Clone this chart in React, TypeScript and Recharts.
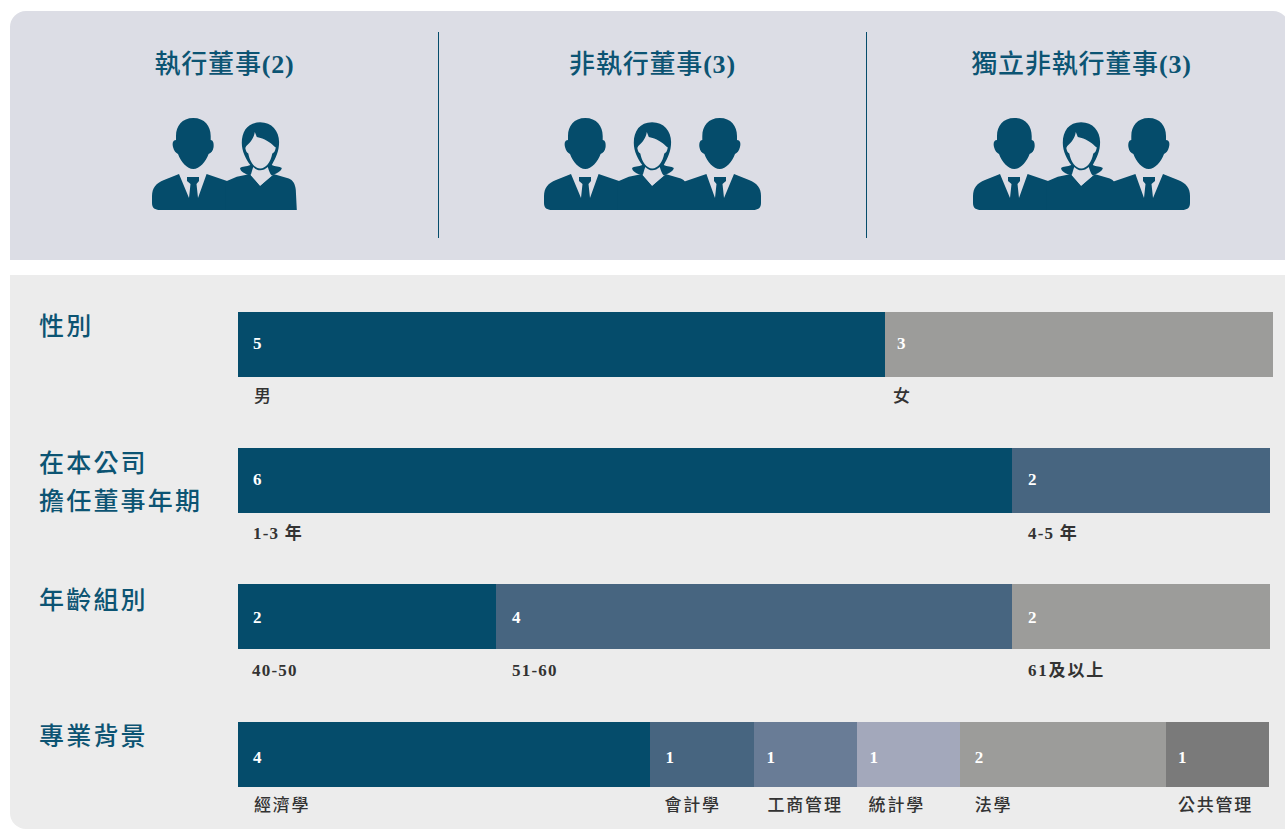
import { BarChart, Bar, XAxis, YAxis, LabelList } from 'recharts'

const NAVY = '#054c6b'
const TOP_BG = '#dcdde5'
const BOTTOM_BG = '#ececec'
const FONT = '"Liberation Serif", "Noto Sans CJK TC", serif'

const boardNames = ['執行董事', '非執行董事', '獨立非執行董事']
const boardCounts = [2, 3, 3]
const boardPeople = [
  ['man', 'woman'],
  ['man', 'woman', 'manR'],
  ['man', 'woman', 'manR'],
]

const genderNames = ['男', '女']
const genderValues = [5, 3]
const tenureNames = ['1-3 年', '4-5 年']
const tenureValues = [6, 2]
const ageNames = ['40-50', '51-60', '61及以上']
const ageValues = [2, 4, 2]
const majorNames = ['經濟學', '會計學', '工商管理', '統計學', '法學', '公共管理']
const majorValues = [4, 1, 1, 1, 2, 1]

const BLUE1 = '#476580'
const BLUE2 = '#697c96'
const BLUE3 = '#a3a8bb'
const GREY1 = '#9c9c9a'
const GREY2 = '#7a7a7a'

function Man({ x, flip }: { x: number; flip?: boolean }) {
  const t = flip ? `translate(${x},118) scale(-1,1)` : `translate(${x},118)`
  return (
    <g transform={t} fill={NAVY}>
      <path d="M41.3 0C30 0 24 8 24 18V22C21 22 20 25 21 29C22 33 24 35 26 36C29 44 35 51 41.3 51C47.6 51 53.6 44 56.6 36C59 35 61 33 61.6 29C62 25 61 22 58.7 22V18C58.7 8 52.6 0 41.3 0Z" />
      <path d="M27 56L12 62C4 65 0 70 0 78V85C0 90 3 92 8 92H78V64L54.6 56L46 80H37Z" />
      <path d="M35 59H47V63L44.5 66L46 80H37L38.5 66L35 63Z" />
    </g>
  )
}

function Woman({ x }: { x: number }) {
  return (
    <g transform={`translate(${x},118)`}>
      <path fill={NAVY} d="M-1.7 63.7L10 58.7L23.3 56L33.3 67.7L46.6 56L62 60.5C66 62 68.5 66 69 72L70 92H-1.7Z" />
      <path fill={TOP_BG} d="M24 46H44L46.6 56.5L33.3 67.7L23.3 56.5Z" />
      <path fill={NAVY} d="M33.3 4.3C21 4.3 15 13 15 25C15 33 19 41 23.5 47C20 49 15 48 13.3 50C13 53 18 56 23.3 57.5C25 56 25 52 26.5 49C29 51.5 31 52.3 33.5 52.3C36 52.3 39 51 41 49C42 52 43 56 45 57.5C49 56 55 53 55 50C53 48 48 49 45 47C49 40 52.3 33 52.3 24C52.3 13 45 4.3 33.3 4.3Z" />
      <path fill={TOP_BG} d="M28 14C27 20 24 24 19.5 28L18.5 30C19 33 20 35 21.5 35.5C23 44 28 50.5 33.5 50.5C39 50.5 44 44 45.5 35.5C47 35 48.5 33 49 29.5L47.5 28.5C43 24 38 20.5 30 19Z" />
    </g>
  )
}

function People({ kinds, left }: { kinds: string[]; left: number }) {
  const rightEdge = left + 217
  return (
    <>
      {kinds.map((k, i) =>
        k === 'man' ? (
          <Man key={i} x={left} />
        ) : k === 'woman' ? (
          <Woman key={i} x={left + 74.8} />
        ) : (
          <Man key={i} x={rightEdge} flip />
        ),
      )}
    </>
  )
}

interface RowProps {
  top: number
  width: number
  names: string[]
  values: number[]
  colors: string[]
  valueDx: number[]
  valueDy: number
  nameDx: number[]
  nameDy: number
}

function StackRow({ top, width, names, values, colors, valueDx, valueDy, nameDx, nameDy }: RowProps) {
  const row: Record<string, number | string> = { name: 'row' }
  values.forEach((v, i) => {
    row[`s${i}`] = v
  })
  const total = values.reduce((a, b) => a + b, 0)

  return (
    <div style={{ position: 'absolute', left: 238, top }}>
      <BarChart
        width={width}
        height={110}
        data={[row]}
        layout="vertical"
        margin={{ top: 0, right: 0, bottom: 45, left: 0 }}
        barCategoryGap={0}
      >
        <XAxis type="number" domain={[0, total]} hide />
        <YAxis type="category" dataKey="name" hide />
        {values.map((_, i) => (
          <Bar key={i} dataKey={`s${i}`} stackId="a" fill={colors[i]} shapeRendering="crispEdges" isAnimationActive={false}>
            <LabelList
              dataKey={`s${i}`}
              content={(p: any) => (
                <g>
                  <text
                    x={p.x + valueDx[i]}
                    y={p.y + valueDy}
                    dominantBaseline="central"
                    fill="#fff"
                    fontFamily={FONT}
                    fontSize={17}
                    fontWeight={700}
                  >
                    {p.value}
                  </text>
                  <text
                    x={p.x + nameDx[i]}
                    y={p.y + p.height + nameDy}
                    dominantBaseline="central"
                    fill="#333"
                    fontFamily={FONT}
                    fontSize={17}
                    fontWeight={/[0-9]/.test(names[i]) ? 700 : 500}
                    letterSpacing={/[\u4e00-\u9fff]{2}/.test(names[i]) ? 1.8 : 1.2}
                  >
                    {names[i]}
                  </text>
                </g>
              )}
            />
          </Bar>
        ))}
      </BarChart>
    </div>
  )
}

function SectionLabel({ lines, top }: { lines: string[]; top: number }) {
  return (
    <>
      {lines.map((l, i) => (
        <div
          key={i}
          style={{
            position: 'absolute',
            left: 39,
            top: top + i * 38 - 20,
            height: 40,
            lineHeight: '40px',
            fontFamily: FONT,
            fontSize: 25,
            fontWeight: 500,
            letterSpacing: 2.2,
            color: '#0c5473',
            whiteSpace: 'nowrap',
          }}
        >
          {l}
        </div>
      ))}
    </>
  )
}

export default function App() {
  return (
    <div style={{ position: 'absolute', left: 0, top: 0, width: 1285, height: 829, overflow: 'hidden', background: '#fff' }}>
      <div style={{ position: 'absolute', left: 10, top: 11, width: 1279, height: 249, background: TOP_BG, borderRadius: '16px 16px 0 0' }} />
      <div style={{ position: 'absolute', left: 10, top: 275, width: 1279, height: 554, background: BOTTOM_BG, borderRadius: '0 0 0 16px' }} />

      {boardNames.map((t, i) => (
        <div
          key={t}
          style={{
            position: 'absolute',
            left: [224.5, 652.5, 1081.5][i] - 200,
            top: 45,
            width: 400,
            height: 40,
            lineHeight: '40px',
            textAlign: 'center',
            fontFamily: FONT,
            fontSize: 26,
            fontWeight: 500,
            letterSpacing: 0.8,
            color: '#0c5473',
          }}
        >
          {t}
          <span style={{ fontWeight: 700 }}>({boardCounts[i]})</span>
        </div>
      ))}

      <svg width={1285} height={270} style={{ position: 'absolute', left: 0, top: 0 }}>
        <line x1={438.5} x2={438.5} y1={32} y2={238} stroke={NAVY} />
        <line x1={866.5} x2={866.5} y1={32} y2={238} stroke={NAVY} />
        {boardPeople.map((kinds, i) => (
          <People key={i} kinds={kinds} left={[152, 544, 973][i]} />
        ))}
      </svg>

      <SectionLabel lines={['性別']} top={327} />
      <SectionLabel lines={['在本公司', '擔任董事年期']} top={464} />
      <SectionLabel lines={['年齡組別']} top={601} />
      <SectionLabel lines={['專業背景']} top={737} />

      <StackRow top={312} width={1035} names={genderNames} values={genderValues} colors={[NAVY, GREY1]} valueDx={[15, 12]} valueDy={31.5} nameDx={[16, 8]} nameDy={19} />
      <StackRow top={448} width={1032} names={tenureNames} values={tenureValues} colors={[NAVY, BLUE1]} valueDx={[15, 16]} valueDy={31.5} nameDx={[15, 16]} nameDy={20} />
      <StackRow top={584} width={1032} names={ageNames} values={ageValues} colors={[NAVY, BLUE1, GREY1]} valueDx={[15, 16, 16]} valueDy={33} nameDx={[14, 16, 16]} nameDy={21} />
      <StackRow top={722} width={1031} names={majorNames} values={majorValues} colors={[NAVY, BLUE1, BLUE2, BLUE3, GREY1, GREY2]} valueDx={[15, 15, 13, 13, 15, 12]} valueDy={35} nameDx={[16, 14, 14, 12, 15, 12]} nameDy={18} />
    </div>
  )
}
